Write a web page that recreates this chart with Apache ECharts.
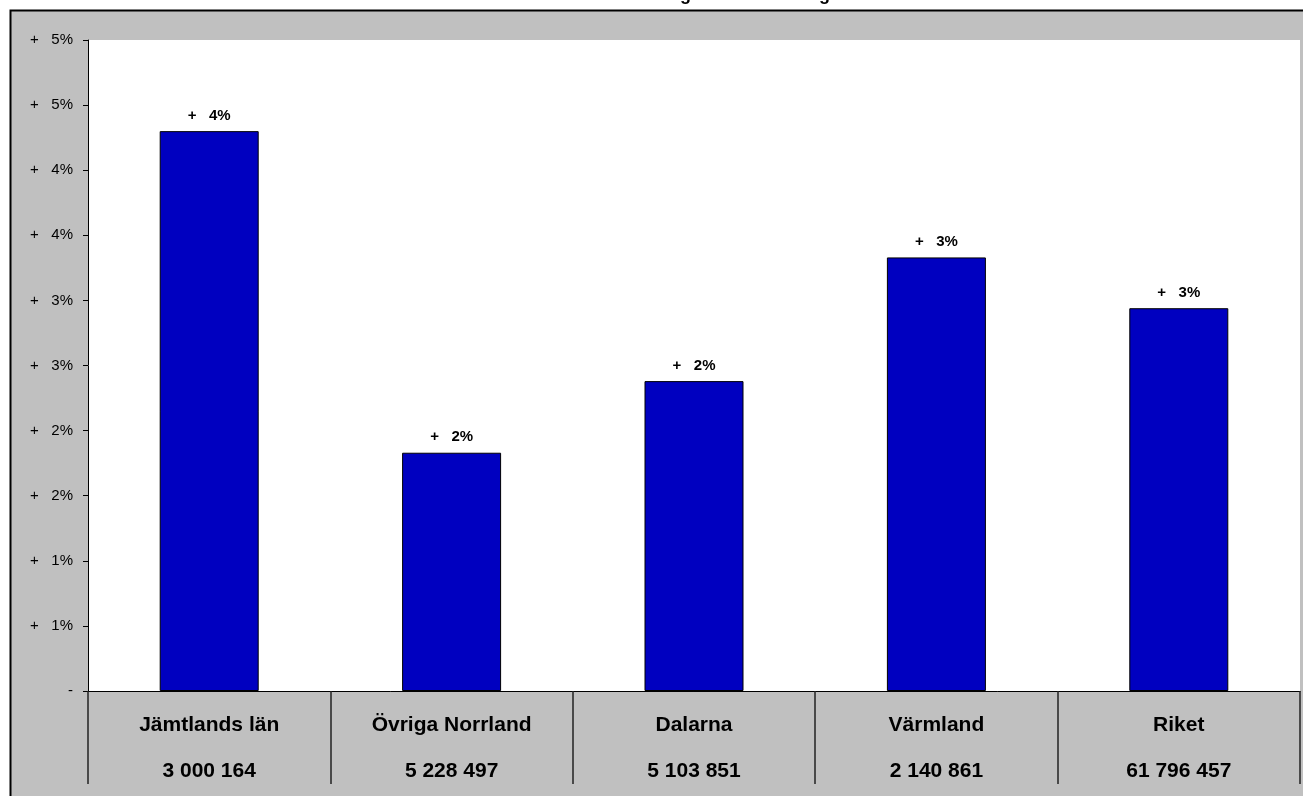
<!DOCTYPE html>
<html>
<head>
<meta charset="utf-8">
<script src="https://cdn.jsdelivr.net/npm/echarts@6/dist/echarts.min.js"></script>
<style>
html,body{margin:0;padding:0;background:#fff;overflow:hidden;}
#chart{width:1303px;height:796px;}
</style>
</head>
<body>
<div id="chart"></div>
<script>
const categories = ['Jämtlands län', 'Övriga Norrland', 'Dalarna', 'Värmland', 'Riket'];
const totals = ['3 000 164', '5 228 497', '5 103 851', '2 140 861', '61 796 457'];
const changePct = [4.30, 1.83, 2.38, 3.33, 2.94];
const titleText = 'Förändring av övernattningar';

const FONT = '"Liberation Sans", Arial, sans-serif';
const chart = echarts.init(document.getElementById('chart'));

function pctLabel(v) {
  if (Math.abs(v) < 1e-9) return '-';
  return '+   ' + Math.round(v) + '%';
}

chart.setOption({
  backgroundColor: '#ffffff',
  animation: false,
  graphic: [
    {
      type: 'rect', z: -10, silent: true,
      shape: { x: 10.5, y: 10.5, width: 2000, height: 2000 },
      style: { fill: '#c0c0c0', stroke: '#000', lineWidth: 2 }
    },
    {
      type: 'text', z: -5, silent: true,
      left: 596, top: -14,
      style: { text: titleText, font: 'bold 18px ' + FONT, fill: '#000' }
    }
  ],
  grid: {
    left: 88, right: 3, top: 40, bottom: 105,
    show: true, backgroundColor: '#ffffff', borderWidth: 0
  },
  xAxis: {
    type: 'category',
    data: categories,
    axisLine: { show: true, lineStyle: { color: '#000', width: 1 } },
    axisTick: { show: true, length: 93, lineStyle: { color: '#222', width: 1.5 } },
    axisLabel: {
      interval: 0,
      margin: 11,
      formatter: function (v, i) {
        return '{a|' + v + '}\n{b|' + totals[i] + '}';
      },
      rich: {
        a: { fontFamily: FONT, fontWeight: 'bold', fontSize: 21, lineHeight: 46, color: '#000' },
        b: { fontFamily: FONT, fontWeight: 'bold', fontSize: 21, lineHeight: 46, color: '#000' }
      }
    },
    splitLine: { show: false }
  },
  yAxis: {
    type: 'value',
    min: 0, max: 5, interval: 0.5,
    axisLine: { show: true, lineStyle: { color: '#000', width: 1 } },
    axisTick: { show: true, length: 5, lineStyle: { color: '#000' } },
    axisLabel: {
      margin: 15,
      fontFamily: FONT, fontSize: 15, color: '#000',
      formatter: pctLabel
    },
    splitLine: { show: false }
  },
  series: [{
    type: 'bar',
    data: changePct,
    barWidth: 99,
    itemStyle: { color: '#0000c0', borderColor: '#000', borderWidth: 1 },
    label: {
      show: true, position: 'top', distance: 8,
      fontFamily: FONT, fontWeight: 'bold', fontSize: 15, color: '#000',
      formatter: function (p) { return pctLabel(p.value); }
    }
  }]
});
</script>
</body>
</html>
